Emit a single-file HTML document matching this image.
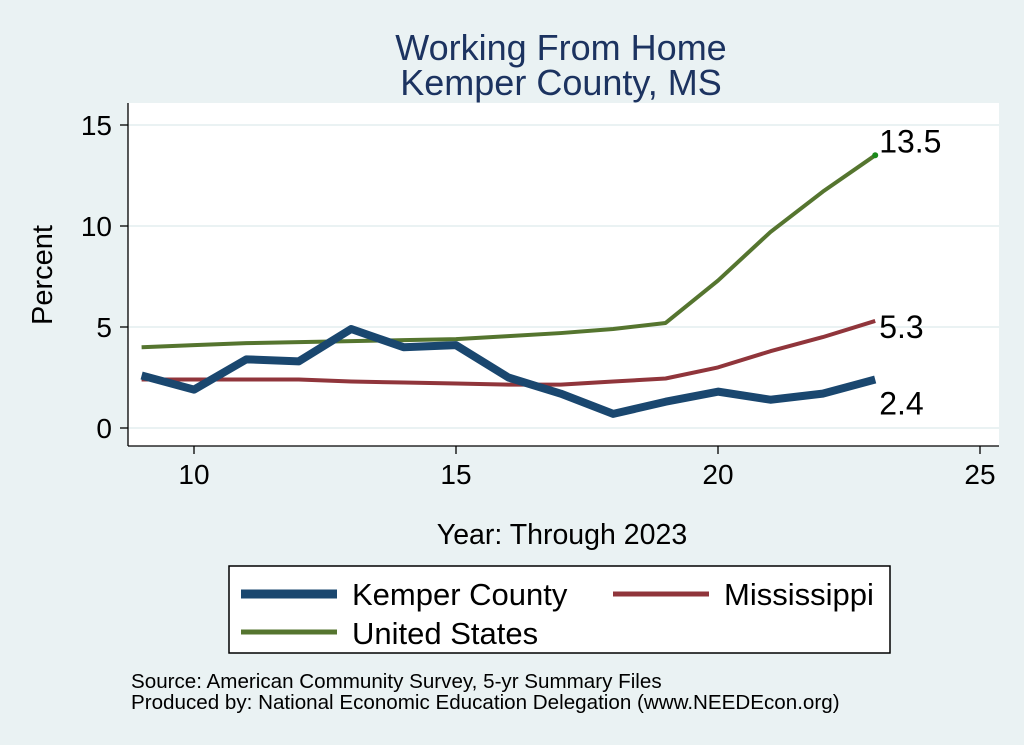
<!DOCTYPE html>
<html><head><meta charset="utf-8">
<style>
html,body{margin:0;padding:0;background:#eaf2f3;}
svg{display:block;font-family:"Liberation Sans",Arial,sans-serif;}
</style></head>
<body>
<svg id="chart" width="1024" height="745" viewBox="0 0 1024 745">
<rect x="0" y="0" width="1024" height="745" fill="#eaf2f3"/>
<text x="561" y="60" text-anchor="middle" font-size="36" fill="#1c3360">Working From Home</text>
<text x="561" y="95" text-anchor="middle" font-size="36" fill="#1c3360">Kemper County, MS</text>
<rect x="128" y="103" width="871" height="343" fill="#ffffff"/>
<g id="grid"></g>
<g id="axes"></g>
<g id="series"></g>
<text x="52" y="275" text-anchor="middle" font-size="29" fill="#000" transform="rotate(-90 52 275)">Percent</text>
<text x="562" y="544" text-anchor="middle" font-size="28.5" fill="#000">Year: Through 2023</text>
<g>
<rect x="229" y="566" width="661" height="87" fill="#fff" stroke="#000" stroke-width="1.5"/>
<line x1="241" y1="594" x2="337" y2="594" stroke="#1a476f" stroke-width="9"/>
<text x="352" y="605" font-size="31" fill="#000">Kemper County</text>
<line x1="613" y1="594" x2="709" y2="594" stroke="#90353b" stroke-width="5"/>
<text x="724" y="605" font-size="31" fill="#000">Mississippi</text>
<line x1="241" y1="632" x2="337" y2="632" stroke="#55752f" stroke-width="5"/>
<text x="352" y="644" font-size="31" fill="#000">United States</text>
</g>
<text x="131" y="688" font-size="20.6" fill="#000">Source: American Community Survey, 5-yr Summary Files</text>
<text x="131" y="709" font-size="20.6" fill="#000">Produced by: National Economic Education Delegation (www.NEEDEcon.org)</text>
</svg>
<script>
const years = [9,10,11,12,13,14,15,16,17,18,19,20,21,22,23];
const kemper = [2.6,1.9,3.4,3.3,4.9,4.0,4.1,2.5,1.7,0.7,1.3,1.8,1.4,1.7,2.4];
const mississippi = [2.4,2.4,2.4,2.4,2.3,2.25,2.2,2.15,2.15,2.3,2.45,3.0,3.8,4.5,5.3];
const unitedStates = [4.0,4.1,4.2,4.25,4.3,4.35,4.4,4.55,4.7,4.9,5.2,7.3,9.7,11.7,13.5];
const xTicks = [10,15,20,25];
const yTicks = [0,5,10,15];

const NS="http://www.w3.org/2000/svg";
function xs(v){return 194+(v-10)*52.4;}
function ys(v){return 428-v*20.2;}
function mk(tag,attrs,parent){const e=document.createElementNS(NS,tag);for(const k in attrs)e.setAttribute(k,attrs[k]);parent.appendChild(e);return e;}
const grid=document.getElementById('grid'),axes=document.getElementById('axes'),series=document.getElementById('series');
mk('line',{x1:128,y1:446,x2:999,y2:446,stroke:'#000','stroke-width':1.3},axes);
mk('line',{x1:128,y1:103,x2:128,y2:446,stroke:'#000','stroke-width':1.3},axes);
yTicks.forEach(t=>{
  const g=mk('line',{x1:128,x2:999,y1:ys(t),y2:ys(t),stroke:'#eaf2f3','stroke-width':2},grid);
  
  
  mk('line',{x1:120,x2:128,y1:ys(t),y2:ys(t),stroke:'#000','stroke-width':1.3},axes);
  const tx=mk('text',{x:112,y:ys(t)+10,'text-anchor':'end','font-size':28,fill:'#000'},axes);
  tx.textContent=t;
  
  
});
xTicks.forEach(t=>{
  mk('line',{x1:xs(t),x2:xs(t),y1:446,y2:454,stroke:'#000','stroke-width':1.3},axes);
  const tx=mk('text',{x:xs(t),y:484,'text-anchor':'middle','font-size':28,fill:'#000'},axes);
  tx.textContent=t;
  
  
});
function line(vals,color,w,name){
  const p=mk('polyline',{points:vals.map((v,i)=>xs(years[i])+','+ys(v)).join(' '),fill:'none',stroke:color,'stroke-width':w,'stroke-linejoin':'round'},series);
  
  
}
line(unitedStates,'#55752f',4,'line-united-states');
line(mississippi,'#90353b',4,'line-mississippi');
line(kemper,'#1a476f',8,'line-kemper-county');
const n=years.length-1;
mk('circle',{cx:xs(years[n]),cy:ys(unitedStates[n]),r:3,fill:'#1a8a1a'},series);
function lab(v,dy,name){
  const t=mk('text',{x:xs(years[n])+4,y:ys(v)+dy,'font-size':32,fill:'#000'},series);
  t.textContent=v.toFixed(1);
  
  
}
lab(unitedStates[n],-3,'label-united-states');
lab(mississippi[n],17,'label-mississippi');
lab(kemper[n],35,'label-kemper-county');
</script>
</body></html>
